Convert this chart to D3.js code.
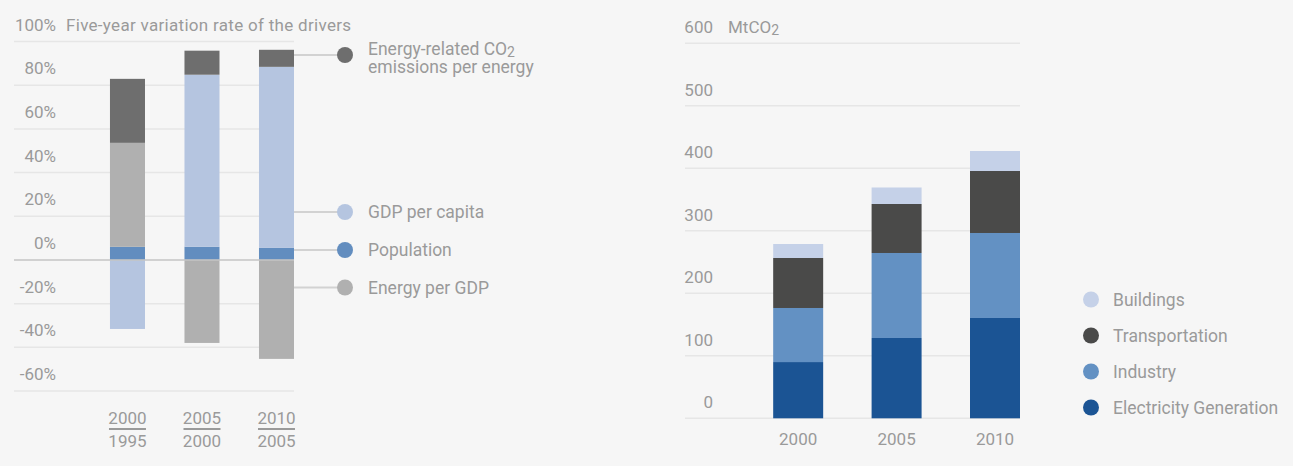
<!DOCTYPE html>
<html>
<head>
<meta charset="utf-8">
<script src="https://cdn.jsdelivr.net/npm/d3@7"></script>
<style>
  body { margin: 0; background: #f6f6f6; }
  text { font-family: Roboto, "Liberation Sans", sans-serif; fill: #9a9a9a; }
</style>
</head>
<body>
<div id="chart"></div>
<script>

// ---------------------------------------------
// ---------        Data               ---------
// ---------------------------------------------

// left chart: five-year variation rate (%) of the drivers
var periodsTop = ["2000", "2005", "2010"];
var periodsBottom = ["1995", "2000", "2005"];
var population = [6.0, 6.0, 5.5];
var gdpPerCapita = [-31.6, 78.8, 82.9];
var energyPerGdp = [47.6, -38.0, -45.3];
var co2PerEnergy = [29.3, 11.0, 7.8];
var leftTicks = [-60, -40, -20, 0, 20, 40, 60, 80, 100];

// right chart: emissions by sector (MtCO2)
var years = ["2000", "2005", "2010"];
var electricity = [90, 128.5, 160.5];
var industry = [86.5, 136, 136];
var transportation = [80, 78.4, 99.2];
var buildings = [22.4, 26.4, 32];
var rightTicks = [0, 100, 200, 300, 400, 500, 600];

var width = 1293, height = 466;
var fontSize = 17;

var svg = d3.select("#chart")
  .append("svg")
    .attr("width", width)
    .attr("height", height)
    .style("display", "block");

svg.append("rect")
  .attr("width", width)
  .attr("height", height)
  .attr("fill", "#f6f6f6");

// ---------------------------------------------
// ---------     Left chart             --------
// ---------------------------------------------

var leftKeys = ["population", "gdpPerCapita", "energyPerGdp", "co2PerEnergy"];
var leftColors = {
  population: "#628dbf",
  gdpPerCapita: "#b5c5e0",
  energyPerGdp: "#b0b0b0",
  co2PerEnergy: "#6e6e6e"
};

var leftRows = periodsTop.map(function (p, i) {
  return {
    period: p,
    population: population[i],
    gdpPerCapita: gdpPerCapita[i],
    energyPerGdp: energyPerGdp[i],
    co2PerEnergy: co2PerEnergy[i]
  };
});

var xL = d3.scaleBand()
  .domain(periodsTop)
  .range([14, 294])
  .paddingInner(0.53)
  .paddingOuter(0.644)
  .align(1);

var yL = d3.scaleLinear().domain([-60, 100]).range([391, 41.5]);

var gL = svg.append("g");

// gridlines
gL.selectAll(".gridL")
  .data(leftTicks.filter(function (d) { return d !== 0; }))
  .join("line")
    .attr("x1", 14)
    .attr("x2", 294)
    .attr("y1", function (d) { return yL(d); })
    .attr("y2", function (d) { return yL(d); })
    .attr("stroke", "#e6e6e6")
    .attr("stroke-width", 1.5);

// tick labels sit above their gridline
gL.selectAll(".tickL")
  .data(leftTicks)
  .join("text")
    .attr("x", 56)
    .attr("y", function (d) { return yL(d) - 11; })
    .attr("text-anchor", "end")
    .attr("font-size", fontSize)
    .text(function (d) { return d + "%"; });

gL.append("text")
  .attr("x", 66)
  .attr("y", yL(100) - 11)
  .attr("font-size", fontSize)
  .attr("letter-spacing", 0.3)
  .text("Five-year variation rate of the drivers");

var stackL = d3.stack()
  .keys(leftKeys)
  .offset(d3.stackOffsetDiverging)(leftRows);

gL.selectAll(".serieL")
  .data(stackL)
  .join("g")
    .attr("fill", function (d) { return leftColors[d.key]; })
  .selectAll("rect")
  .data(function (d) { return d; })
  .join("rect")
    .attr("x", function (d) { return xL(d.data.period); })
    .attr("width", xL.bandwidth())
    .attr("y", function (d) { return yL(Math.max(d[0], d[1])); })
    .attr("height", function (d) { return Math.abs(yL(d[0]) - yL(d[1])); });

// zero line
gL.append("line")
  .attr("x1", 14)
  .attr("x2", 294)
  .attr("y1", yL(0))
  .attr("y2", yL(0))
  .attr("stroke", "#c4c4c4")
  .attr("stroke-width", 1.5);

// period labels as fractions
var frac = gL.selectAll(".frac")
  .data(periodsTop)
  .join("g")
    .attr("transform", function (d) { return "translate(" + (xL(d) + xL.bandwidth() / 2) + ",0)"; });

frac.append("text")
  .attr("y", 424)
  .attr("text-anchor", "middle")
  .attr("font-size", fontSize)
  .text(function (d) { return d; });

frac.append("line")
  .attr("x1", -18.5)
  .attr("x2", 18.5)
  .attr("y1", 429)
  .attr("y2", 429)
  .attr("stroke", "#9a9a9a")
  .attr("stroke-width", 2);

frac.append("text")
  .attr("y", 447)
  .attr("text-anchor", "middle")
  .attr("font-size", fontSize)
  .text(function (d, i) { return periodsBottom[i]; });

// legend with leader lines
var leftLegend = [
  { key: "co2PerEnergy", y: 55, lines: ["Energy-related CO", "emissions per energy"] },
  { key: "gdpPerCapita", y: 212, lines: ["GDP per capita"] },
  { key: "population", y: 250, lines: ["Population"] },
  { key: "energyPerGdp", y: 287.5, lines: ["Energy per GDP"] }
];

var legL = gL.selectAll(".legL")
  .data(leftLegend)
  .join("g")
    .attr("transform", function (d) { return "translate(0," + d.y + ")"; });

legL.append("line")
  .attr("x1", 294)
  .attr("x2", 345)
  .attr("stroke", "#d2d2d2")
  .attr("stroke-width", 2);

legL.append("circle")
  .attr("cx", 345)
  .attr("r", 8)
  .attr("fill", function (d) { return leftColors[d.key]; });

legL.each(function (d) {
  var g = d3.select(this);
  if (d.lines.length === 1) {
    g.append("text")
      .attr("x", 368)
      .attr("font-size", fontSize + 0.5)
      .attr("dominant-baseline", "central")
      .text(d.lines[0]);
  } else {
    // two lines, first baseline level with the dot
    var t1 = g.append("text")
      .attr("x", 368)
      .attr("y", 0)
      .attr("font-size", fontSize + 0.5);
    t1.append("tspan").text(d.lines[0]);
    t1.append("tspan").attr("font-size", 14).attr("dy", 2).text("2");
    g.append("text")
      .attr("x", 368)
      .attr("y", 17.7)
      .attr("font-size", fontSize + 0.5)
      .text(d.lines[1]);
  }
});

// ---------------------------------------------
// ---------     Right chart            --------
// ---------------------------------------------

var rightKeys = ["electricity", "industry", "transportation", "buildings"];
var rightNames = {
  electricity: "Electricity Generation",
  industry: "Industry",
  transportation: "Transportation",
  buildings: "Buildings"
};
var rightColors = {
  electricity: "#1b5494",
  industry: "#6391c3",
  transportation: "#4a4a49",
  buildings: "#c5d1e8"
};

var rightRows = years.map(function (y, i) {
  return {
    year: y,
    electricity: electricity[i],
    industry: industry[i],
    transportation: transportation[i],
    buildings: buildings[i]
  };
});

var xR = d3.scaleBand()
  .domain(years)
  .range([685, 1020])
  .paddingInner(0.492)
  .paddingOuter(0.448)
  .align(1);

var yR = d3.scaleLinear().domain([0, 600]).range([418.3, 43.3]);

var gR = svg.append("g");

gR.selectAll(".gridR")
  .data(rightTicks)
  .join("line")
    .attr("x1", 685)
    .attr("x2", 1020)
    .attr("y1", function (d) { return yR(d); })
    .attr("y2", function (d) { return yR(d); })
    .attr("stroke", "#e6e6e6")
    .attr("stroke-width", 1.5);

gR.selectAll(".tickR")
  .data(rightTicks)
  .join("text")
    .attr("x", 713)
    .attr("y", function (d) { return yR(d) - 10; })
    .attr("text-anchor", "end")
    .attr("font-size", fontSize)
    .text(function (d) { return d; });

var unit = gR.append("text")
  .attr("x", 728)
  .attr("y", yR(600) - 10)
  .attr("font-size", fontSize);
unit.append("tspan").text("MtCO");
unit.append("tspan").attr("font-size", 14).attr("dy", 2).text("2");

var stackR = d3.stack().keys(rightKeys)(rightRows);

gR.selectAll(".serieR")
  .data(stackR)
  .join("g")
    .attr("fill", function (d) { return rightColors[d.key]; })
  .selectAll("rect")
  .data(function (d) { return d; })
  .join("rect")
    .attr("x", function (d) { return xR(d.data.year); })
    .attr("width", xR.bandwidth())
    .attr("y", function (d) { return yR(d[1]); })
    .attr("height", function (d) { return yR(d[0]) - yR(d[1]); });

gR.selectAll(".yearR")
  .data(years)
  .join("text")
    .attr("x", function (d) { return xR(d) + xR.bandwidth() / 2; })
    .attr("y", 445)
    .attr("text-anchor", "middle")
    .attr("font-size", fontSize)
    .text(function (d) { return d; });

// legend, top entry is the top of the stack
var legR = gR.selectAll(".legR")
  .data(rightKeys.slice().reverse())
  .join("g")
    .attr("transform", function (d, i) { return "translate(1091," + (299.5 + i * 36) + ")"; });

legR.append("circle")
  .attr("r", 8)
  .attr("fill", function (d) { return rightColors[d]; });

legR.append("text")
  .attr("x", 22)
  .attr("font-size", fontSize + 0.5)
  .attr("dominant-baseline", "central")
  .text(function (d) { return rightNames[d]; });

</script>
</body>
</html>
